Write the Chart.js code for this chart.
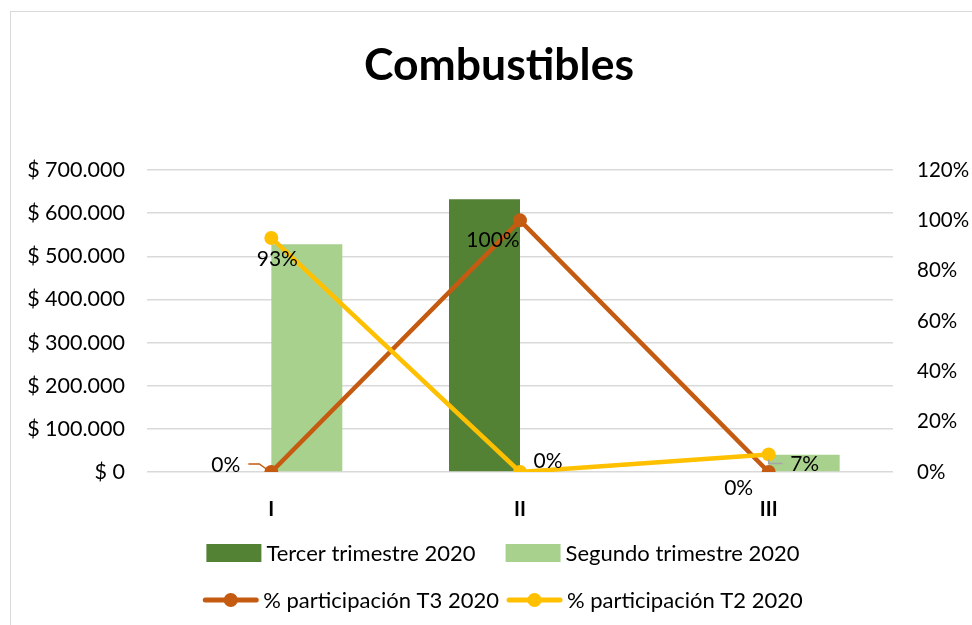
<!DOCTYPE html>
<html>
<head>
<meta charset="utf-8">
<script src="https://cdn.jsdelivr.net/npm/chart.js@4"></script>
<style>
  html, body { margin: 0; padding: 0; background: #fff; }
  #wrap { position: relative; width: 972px; height: 625px; overflow: hidden; }
  #frame { position: absolute; left: 10px; top: 11px; width: 1000px; height: 700px; border: 1.5px solid #d9d9d9; }
  canvas { position: absolute; left: 0; top: 0; }
</style>
</head>
<body>
<div id="wrap"><div id="frame"></div><canvas id="chart" width="998" height="625"></canvas></div>
<script>
// Data
const categories = ['I', 'II', 'III'];
const tercerTrimestre = [0, 632000, 0];
const segundoTrimestre = [528000, 0, 40000];
const participacionT3 = [0, 1.00, 0];
const participacionT2 = [0.93, 0, 0.07];

const FONT = 'Lato, "Open Sans", sans-serif';
const colors = {
    tercer: '#548235',
    segundo: '#a9d18e',
    t3: '#c55a11',
    t2: '#ffc000',
    grid: '#d9d9d9',
    text: '#000000'
};

function formatPesos(v) {
    return '$ ' + String(v).replace(/\B(?=(\d{3})+(?!\d))/g, '.');
}

// Data labels for the line series (offsets relative to the point)
const pointLabels = {
    id: 'pointLabels',
    afterDatasetsDraw(chart) {
        const ctx = chart.ctx;
        chart.data.datasets.forEach((ds, i) => {
            if (!ds.labelPos) return;
            const meta = chart.getDatasetMeta(i);
            meta.data.forEach((pt, j) => {
                const p = ds.labelPos[j];
                ctx.save();
                if (p.leader) {
                    ctx.strokeStyle = p.leaderColor;
                    ctx.lineWidth = 1.5;
                    ctx.beginPath();
                    p.leader.forEach(([dx, dy], k) => {
                        if (k === 0) ctx.moveTo(pt.x + dx, pt.y + dy);
                        else ctx.lineTo(pt.x + dx, pt.y + dy);
                    });
                    ctx.stroke();
                }
                ctx.font = '21px ' + FONT;
                ctx.fillStyle = colors.text;
                ctx.textAlign = p.align || 'center';
                ctx.textBaseline = 'middle';
                ctx.fillText(Math.round(ds.data[j] * 100) + '%', pt.x + p.dx, pt.y + p.dy);
                ctx.restore();
            });
        });
    }
};

// Two-row legend like the original
const gridLegend = {
    id: 'gridLegend',
    afterDraw(chart) {
        const ctx = chart.ctx;
        const rows = [[0, 1], [2, 3]];
        const rowY = [553, 600];
        const rowGap = [30, 8];
        const sw = 55, gap = 5, cx = 503;
        ctx.save();
        ctx.font = '22px ' + FONT;
        ctx.textBaseline = 'middle';
        ctx.textAlign = 'left';
        rows.forEach((row, r) => {
            const widths = row.map(i => sw + gap + ctx.measureText(chart.data.datasets[i].label).width);
            const total = widths.reduce((a, b) => a + b, 0) + rowGap[r] * (row.length - 1);
            let x = cx - total / 2;
            const y = rowY[r];
            row.forEach((i, k) => {
                const ds = chart.data.datasets[i];
                if (ds.type === 'line') {
                    ctx.strokeStyle = ds.borderColor;
                    ctx.lineWidth = 5;
                    ctx.lineCap = 'round';
                    ctx.beginPath();
                    ctx.moveTo(x + 2, y);
                    ctx.lineTo(x + sw - 2, y);
                    ctx.stroke();
                    ctx.fillStyle = ds.borderColor;
                    ctx.beginPath();
                    ctx.arc(x + sw / 2, y, 7, 0, Math.PI * 2);
                    ctx.fill();
                } else {
                    ctx.fillStyle = ds.backgroundColor;
                    ctx.fillRect(x, y - 9, sw, 18);
                }
                ctx.fillStyle = colors.text;
                ctx.fillText(ds.label, x + sw + gap, y + 1);
                x += widths[k] + rowGap[r];
            });
        });
        ctx.restore();
    }
};

new Chart(document.getElementById('chart').getContext('2d'), {
    data: {
        labels: categories,
        datasets: [
            {
                type: 'bar',
                label: 'Tercer trimestre 2020',
                data: tercerTrimestre,
                backgroundColor: colors.tercer,
                yAxisID: 'y',
                order: 2,
                categoryPercentage: 0.571,
                barPercentage: 1
            },
            {
                type: 'bar',
                label: 'Segundo trimestre 2020',
                data: segundoTrimestre,
                backgroundColor: colors.segundo,
                yAxisID: 'y',
                order: 2,
                categoryPercentage: 0.571,
                barPercentage: 1
            },
            {
                type: 'line',
                label: '% participación T3 2020',
                data: participacionT3,
                borderColor: colors.t3,
                backgroundColor: colors.t3,
                borderWidth: 4.5,
                pointRadius: 7,
                pointBorderWidth: 0,
                yAxisID: 'y1',
                order: 1,
                labelPos: [
                    { dx: -31, dy: -7, align: 'right', leader: [[-23, -8], [-12, -8], [-5, -3]], leaderColor: colors.t3 },
                    { dx: -27, dy: 20 },
                    { dx: -30, dy: 16 }
                ]
            },
            {
                type: 'line',
                label: '% participación T2 2020',
                data: participacionT2,
                borderColor: colors.t2,
                backgroundColor: colors.t2,
                borderWidth: 4.5,
                pointRadius: 7,
                pointBorderWidth: 0,
                yAxisID: 'y1',
                order: 0,
                labelPos: [
                    { dx: 6, dy: 21 },
                    { dx: 28, dy: -11 },
                    { dx: 36, dy: 10, leader: [[0, 5], [0, 9], [14, 9]], leaderColor: '#a6a6a6' }
                ]
            }
        ]
    },
    options: {
        responsive: false,
        animation: false,
        layout: { padding: 0 },
        plugins: {
            legend: { display: false },
            tooltip: { enabled: false },
            title: {
                display: true,
                text: 'Combustibles',
                color: colors.text,
                font: { family: FONT, size: 44.5, weight: 'bold', lineHeight: 1.2 },
                padding: { top: 39, bottom: 77.6 }
            }
        },
        scales: {
            x: {
                grid: { display: false },
                border: { display: false },
                ticks: { color: colors.text, font: { family: FONT, size: 20, weight: 'bold' }, padding: 18 },
                afterFit: (s) => { s.height = 153; }
            },
            y: {
                position: 'left',
                min: 0,
                max: 700000,
                grid: { color: colors.grid, lineWidth: 1.5, drawTicks: false },
                border: { display: false },
                ticks: {
                    stepSize: 100000,
                    color: colors.text,
                    font: { family: FONT, size: 21.5 },
                    padding: 22,
                    callback: (v) => formatPesos(v)
                },
                afterFit: (s) => { s.width = 147; }
            },
            y1: {
                position: 'right',
                min: 0,
                max: 1.2,
                grid: { display: false, drawTicks: false },
                border: { display: false },
                ticks: {
                    stepSize: 0.2,
                    color: colors.text,
                    font: { family: FONT, size: 20.5 },
                    padding: 24,
                    callback: (v) => Math.round(v * 100) + '%'
                },
                afterFit: (s) => { s.width = 105; }
            }
        }
    },
    plugins: [pointLabels, gridLegend]
});
</script>
</body>
</html>
